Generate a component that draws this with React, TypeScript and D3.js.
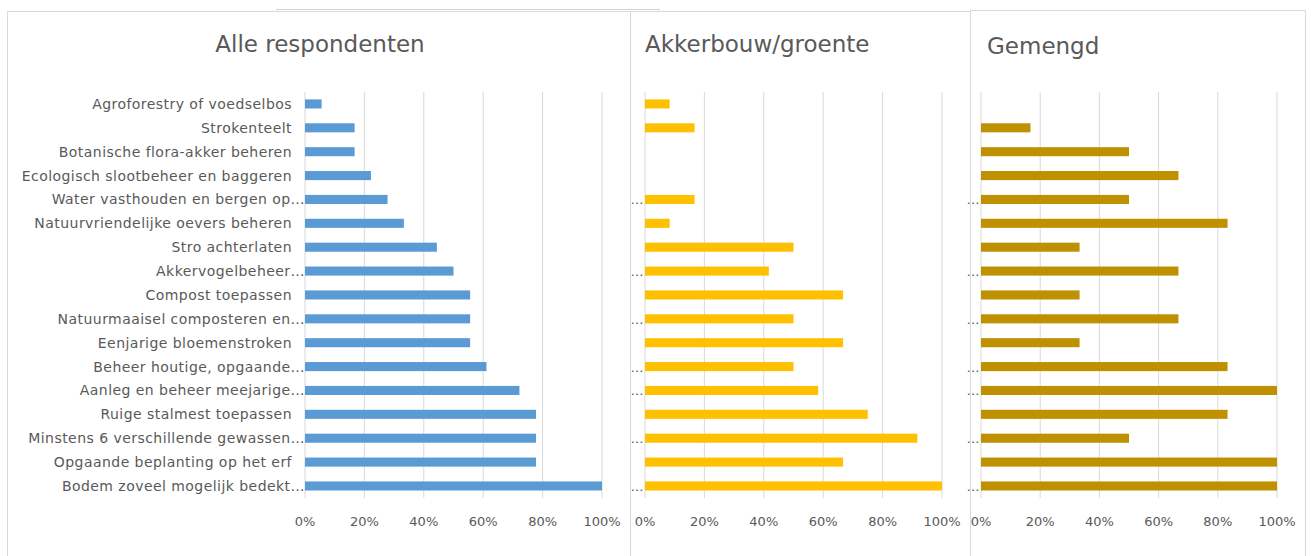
import React from "react";
import * as d3 from "d3";

const categories = [
  "Agroforestry of voedselbos",
  "Strokenteelt",
  "Botanische flora-akker beheren",
  "Ecologisch slootbeheer en baggeren",
  "Water vasthouden en bergen op…",
  "Natuurvriendelijke oevers beheren",
  "Stro achterlaten",
  "Akkervogelbeheer…",
  "Compost toepassen",
  "Natuurmaaisel composteren en…",
  "Eenjarige bloemenstroken",
  "Beheer houtige, opgaande…",
  "Aanleg en beheer meejarige…",
  "Ruige stalmest toepassen",
  "Minstens 6 verschillende gewassen…",
  "Opgaande beplanting op het erf",
  "Bodem zoveel mogelijk bedekt…",
];

const alleValues = [5.6, 16.7, 16.7, 22.2, 27.8, 33.3, 44.4, 50.0, 55.6, 55.6, 55.6, 61.1, 72.2, 77.8, 77.8, 77.8, 100];
const akkerValues = [8.3, 16.7, 0, 0, 16.7, 8.3, 50.0, 41.7, 66.7, 50.0, 66.7, 50.0, 58.3, 75.0, 91.7, 66.7, 100];
const gemengdValues = [0, 16.7, 50.0, 66.7, 50.0, 83.3, 33.3, 66.7, 33.3, 66.7, 33.3, 83.3, 100, 83.3, 50.0, 100, 100];

const ticks = [0, 20, 40, 60, 80, 100];
const titles = ["Alle respondenten", "Akkerbouw/groente", "Gemengd"];
const colors = ["#5B9BD5", "#FFC000", "#BF9000"];

const FONT = "'DejaVu Sans', sans-serif";
const TEXT = "#595959";
const GRID = "#D9D9D9";

type PanelProps = {
  values: number[];
  x0: number;
  x1: number;
  color: string;
  fullLabels: boolean;
};

function Panel({ values, x0, x1, color, fullLabels }: PanelProps) {
  const x = d3.scaleLinear().domain([0, 100]).range([x0, x1]);
  const y = d3.scaleBand<string>().domain(categories).range([92, 497.9]).paddingInner(0.62).paddingOuter(0.31);
  const gridTop = 92;
  const gridBottom = 498;
  return (
    <g>
      {ticks.map((t) => (
        <line key={"g" + t} x1={x(t)} x2={x(t)} y1={gridTop} y2={gridBottom} stroke={GRID} strokeWidth={1} />
      ))}
      {categories.map((c, i) => (
        <rect key={"b" + c} x={x(0)} y={y(c)!} width={Math.max(0, x(values[i]) - x(0))} height={y.bandwidth()} fill={color} />
      ))}
      {ticks.map((t) => (
        <text key={"t" + t} x={x(t)} y={526} textAnchor="middle" fontFamily={FONT} fontSize={13} fill={TEXT}>
          {t + "%"}
        </text>
      ))}
      {categories.map((c) => {
        const truncated = c.endsWith("…");
        const cy = y(c)! + y.bandwidth() / 2;
        if (fullLabels) {
          return (
            <text key={"l" + c} x={truncated ? x0 : x0 - 13} y={cy + 5} textAnchor="end" fontFamily={FONT} fontSize={14} letterSpacing={0.45} fill={TEXT}>
              {c}
            </text>
          );
        }
        return truncated ? (
          <text key={"l" + c} x={x0 - 1} y={cy + 5} textAnchor="end" fontFamily={FONT} fontSize={13} letterSpacing={0.5} fill={TEXT}>
            …
          </text>
        ) : null;
      })}
    </g>
  );
}

export default function App() {
  return (
    <svg width={1311} height={556} style={{ display: "block", position: "absolute", left: 0, top: 0 }}>
      <rect x={0} y={0} width={1311} height={556} fill="#ffffff" />
      <line x1={276} x2={660} y1={9.5} y2={9.5} stroke="#D0D0D0" />
      <Panel values={alleValues} x0={305} x1={602} color={colors[0]} fullLabels={true} />
      <Panel values={akkerValues} x0={645} x1={942} color={colors[1]} fullLabels={false} />
      <Panel values={gemengdValues} x0={981} x1={1277} color={colors[2]} fullLabels={false} />
      <rect x={7.5} y={11.5} width={623} height={560} fill="none" stroke={GRID} />
      <rect x={630.5} y={11.5} width={340} height={560} fill="none" stroke={GRID} />
      <rect x={970.5} y={10.5} width={335} height={560} fill="none" stroke={GRID} />
      <text x={320} y={52} textAnchor="middle" fontFamily={FONT} fontSize={23} fill={TEXT}>{titles[0]}</text>
      <text x={645} y={52} textAnchor="start" fontFamily={FONT} fontSize={23} fill={TEXT}>{titles[1]}</text>
      <text x={987} y={54} textAnchor="start" fontFamily={FONT} fontSize={23} fill={TEXT}>{titles[2]}</text>
    </svg>
  );
}
